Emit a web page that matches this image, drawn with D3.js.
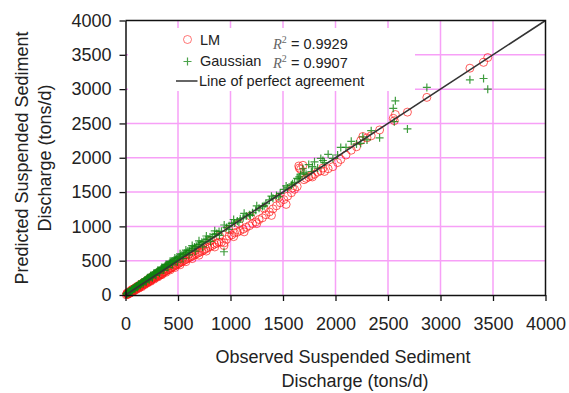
<!DOCTYPE html>
<html>
<head>
<meta charset="utf-8">
<script src="https://cdn.jsdelivr.net/npm/d3@7"></script>
<style>
  body { margin: 0; background: #fff; }
  text { font-family: "Liberation Sans", Arial, sans-serif; fill: #222; }
</style>
</head>
<body>
<div id="chart"></div>
<script>
// observed discharge (tons/d) and the two model predictions
const observed = [
  8, 14, 20, 26, 31, 37, 43, 49, 54, 60,
  65, 70, 76, 82, 88, 94, 100, 106, 112, 118,
  124, 130, 137, 144, 150, 157, 164, 171, 178, 185,
  192, 199, 206, 214, 221, 229, 237, 245, 253, 261,
  269, 277, 285, 294, 302, 311, 320, 329, 338, 347,
  356, 366, 376, 386, 396, 406, 417, 428, 439, 450,
  462, 474, 486, 498, 511, 524, 537, 551, 565, 579,
  594, 609, 625, 641, 657, 674, 691, 709, 727, 746,
  765, 785, 805, 826, 847, 869, 891, 914, 938, 962,
  987, 1012, 1038, 1065, 1093, 1121, 1150, 1180, 1210, 1241,
  1272, 1304, 1337, 1370, 1404, 1438, 1473, 1508, 1544, 1580,
  1610, 1635, 1655, 1668, 1690, 1720, 1745, 1770, 1800, 1830,
  1860, 1895, 1930, 1975, 2020, 2050, 2100, 2150, 2200, 2240,
  2260, 2300, 2340, 2420, 2550, 2560, 2570, 2685, 2870, 3280, 3410, 3450,
  15, 22, 33, 40, 52, 58, 68, 80, 90, 103,
  115, 128, 141, 155, 168, 182, 196, 210, 225, 240,
  256, 272, 290, 308, 325, 345, 365, 385, 405, 425,
  448, 470, 495, 520, 548, 575, 605, 635, 665, 700,
  735, 770, 810, 850, 895, 940, 985, 1030, 1080, 1130,
  1190, 1250, 1320, 1390, 1460, 1530, 1590, 1650, 1700, 1780, 1880
];
const lmPred = [
  2, 20, 12, 35, 22, 44, 30, 38, 60, 48,
  72, 55, 80, 65, 95, 80, 90, 115, 98, 105,
  118, 110, 130, 125, 145, 135, 150, 160, 155, 170,
  168, 185, 182, 195, 200, 210, 205, 225, 230, 238,
  250, 248, 265, 262, 280, 278, 295, 290, 310, 305,
  325, 335, 340, 355, 360, 372, 378, 390, 398, 412,
  418, 435, 440, 455, 462, 478, 485, 500, 508, 522,
  535, 545, 560, 570, 585, 598, 612, 625, 640, 655,
  672, 690, 705, 720, 740, 755, 770, 770, 720, 810,
  860, 875, 905, 915, 940, 960, 985, 1010, 1040, 1065,
  1100, 1125, 1170, 1210, 1255, 1300, 1345, 1390, 1440, 1490,
  1540, 1580, 1850, 1830, 1890, 1700, 1720, 1740, 1760, 1790,
  1810, 1800, 1840, 1870, 1930, 1975, 2040, 2110, 2160, 2250,
  2310, 2290, 2320, 2405, 2575, 2540, 2630, 2665, 2880, 3305, 3390, 3460,
  28, 8, 45, 25, 68, 40, 85, 60, 100, 80,
  130, 100, 155, 120, 180, 150, 205, 175, 240, 200,
  270, 230, 300, 262, 340, 295, 375, 330, 420, 365,
  455, 400, 500, 440, 545, 485, 595, 530, 650, 580,
  720, 640, 790, 700, 860, 760, 950, 850, 1040, 920,
  1150, 1040, 1260, 1160, 1420, 1320, 1560, 1880, 1680, 1720, 1850
];
const gaussPred = [
  18, 22, 35, 30, 48, 45, 60, 58, 70, 78,
  75, 90, 88, 100, 105, 118, 115, 125, 135, 132,
  148, 150, 155, 168, 170, 182, 188, 190, 205, 208,
  220, 225, 238, 240, 255, 258, 270, 275, 290, 292,
  305, 310, 322, 330, 340, 345, 360, 362, 378, 385,
  395, 402, 418, 425, 440, 445, 460, 470, 480, 492,
  505, 512, 530, 540, 555, 565, 580, 590, 610, 618,
  640, 648, 668, 680, 700, 712, 735, 742, 768, 780,
  805, 815, 845, 850, 880, 895, 925, 930, 630, 985,
  1010, 1045, 1050, 1080, 1110, 1125, 1150, 1170, 1200, 1235,
  1265, 1290, 1330, 1385, 1410, 1450, 1480, 1540, 1560, 1600,
  1640, 1700, 1720, 1760, 1840, 1760, 1900, 1800, 1940, 1850,
  1990, 1930, 2050, 1990, 2040, 2150, 2150, 2240, 2200, 2210,
  2305, 2260, 2395, 2290, 2720, 2525, 2830, 2420, 3025, 3135, 3155, 3000,
  10, 40, 25, 58, 50, 80, 65, 105, 85, 130,
  110, 160, 140, 185, 160, 215, 190, 250, 220, 285,
  250, 320, 285, 360, 318, 400, 360, 445, 400, 490,
  440, 540, 480, 600, 530, 655, 585, 720, 640, 790,
  700, 860, 780, 935, 870, 1020, 955, 1100, 1060, 1190,
  1160, 1300, 1300, 1440, 1430, 1590, 1620, 1690, 1780, 1870, 1960
];
const ticks = [0, 500, 1000, 1500, 2000, 2500, 3000, 3500, 4000];
const r2Lm = "0.9929";
const r2Gauss = "0.9907";

const W = 569, H = 393;
const svg = d3.select("#chart").append("svg")
  .attr("width", W).attr("height", H);

const x = d3.scaleLinear().domain([0, 4000]).range([125.5, 545.5]);
const y = d3.scaleLinear().domain([0, 4000]).range([295, 20.5]);

// grid
const grid = svg.append("g").attr("stroke", "#f7a0f7").attr("stroke-width", 1.5);
grid.selectAll(".gx").data(ticks.slice(1, -1)).join("line")
  .attr("x1", d => x(d)).attr("x2", d => x(d))
  .attr("y1", y(0)).attr("y2", y(4000));
grid.selectAll(".gy").data(ticks.slice(1, -1)).join("line")
  .attr("y1", d => y(d)).attr("y2", d => y(d))
  .attr("x1", x(0)).attr("x2", x(4000));

// legend background hides the grid
svg.append("rect").attr("x", 128).attr("y", 28).attr("width", 287).attr("height", 63)
  .attr("fill", "#fff");

// points
const pts = observed.map((o, i) => ({o, lm: lmPred[i], g: gaussPred[i]}));
svg.append("g").selectAll("circle").data(pts).join("circle")
  .attr("cx", d => x(d.o)).attr("cy", d => y(d.lm)).attr("r", 4)
  .attr("fill", "none").attr("stroke", "#ff1a1a").attr("stroke-opacity", 0.7)
  .attr("stroke-width", 1);
svg.append("g").selectAll("path").data(pts).join("path")
  .attr("transform", d => `translate(${x(d.o)},${y(d.g)})`)
  .attr("d", "M-4,0H4M0,-4V4")
  .attr("stroke", "#0f840f").attr("stroke-opacity", 0.8).attr("stroke-width", 1.2);

// line of perfect agreement
svg.append("line")
  .attr("x1", x(0)).attr("y1", y(0)).attr("x2", x(4000)).attr("y2", y(4000))
  .attr("stroke", "#333").attr("stroke-width", 1.5);

// axes
const fmt = d3.format("d");
const xAxis = svg.append("g").attr("transform", `translate(0,${y(0)})`)
  .call(d3.axisBottom(x).tickValues(ticks).tickFormat(fmt).tickSize(6).tickPadding(16).tickSizeOuter(0));
const yAxis = svg.append("g").attr("transform", `translate(${x(0)},0)`)
  .call(d3.axisLeft(y).tickValues(ticks).tickFormat(fmt).tickSize(6).tickPadding(8).tickSizeOuter(0));
[xAxis, yAxis].forEach(a => {
  a.select(".domain").attr("stroke", "#111").attr("stroke-width", 1.5);
  a.selectAll(".tick line").attr("stroke", "#111").attr("stroke-width", 1.3);
  a.selectAll(".tick text").attr("font-size", 18).attr("fill", "#222")
    .attr("font-family", "Liberation Sans, Arial, sans-serif");
});

// top and right frame
svg.append("path")
  .attr("d", `M${x(0)},${y(4000)}H${x(4000)}V${y(0)}`)
  .attr("fill", "none").attr("stroke", "#111").attr("stroke-width", 1.5);

// axis titles
svg.append("text").attr("x", 343).attr("y", 363).attr("text-anchor", "middle")
  .attr("font-size", 18).text("Observed Suspended Sediment");
svg.append("text").attr("x", 355).attr("y", 387).attr("text-anchor", "middle")
  .attr("font-size", 18).text("Discharge (tons/d)");
const yt = svg.append("g").attr("transform", "translate(0,158) rotate(-90)");
yt.append("text").attr("x", 0).attr("y", 28).attr("text-anchor", "middle")
  .attr("font-size", 18).text("Predicted Suspended Sediment");
yt.append("text").attr("x", 0).attr("y", 51).attr("text-anchor", "middle")
  .attr("font-size", 18).text("Discharge (tons/d)");

// legend
const lg = svg.append("g");
lg.append("circle").attr("cx", 187.5).attr("cy", 39.5).attr("r", 4)
  .attr("fill", "none").attr("stroke", "#ff1a1a").attr("stroke-opacity", 0.6);
lg.append("path").attr("transform", "translate(187.5,61.5)").attr("d", "M-4,0H4M0,-4V4")
  .attr("stroke", "#0f840f").attr("stroke-opacity", 0.75).attr("stroke-width", 1.2);
lg.append("line").attr("x1", 176).attr("x2", 197.5).attr("y1", 81).attr("y2", 81)
  .attr("stroke", "#333").attr("stroke-width", 1.5);
lg.append("text").attr("x", 200).attr("y", 45).attr("font-size", 14.5).text("LM");
lg.append("text").attr("x", 200).attr("y", 66).attr("font-size", 14.5).text("Gaussian");
lg.append("text").attr("x", 199).attr("y", 86).attr("font-size", 14.5).text("Line of perfect agreement");
[[r2Lm, 48.5], [r2Gauss, 67.5]].forEach(([v, yy]) => {
  const t = lg.append("text").attr("x", 273).attr("y", yy).attr("font-size", 14.5);
  t.append("tspan").attr("font-family", "Liberation Serif, Times New Roman, serif")
    .attr("font-style", "italic").attr("fill", "#666").text("R");
  t.append("tspan").attr("font-family", "Liberation Serif, Times New Roman, serif")
    .attr("font-size", 10).attr("dy", -6).attr("fill", "#666").text("2");
  t.append("tspan").attr("dy", 6).text(" = " + v);
});
</script>
</body>
</html>
